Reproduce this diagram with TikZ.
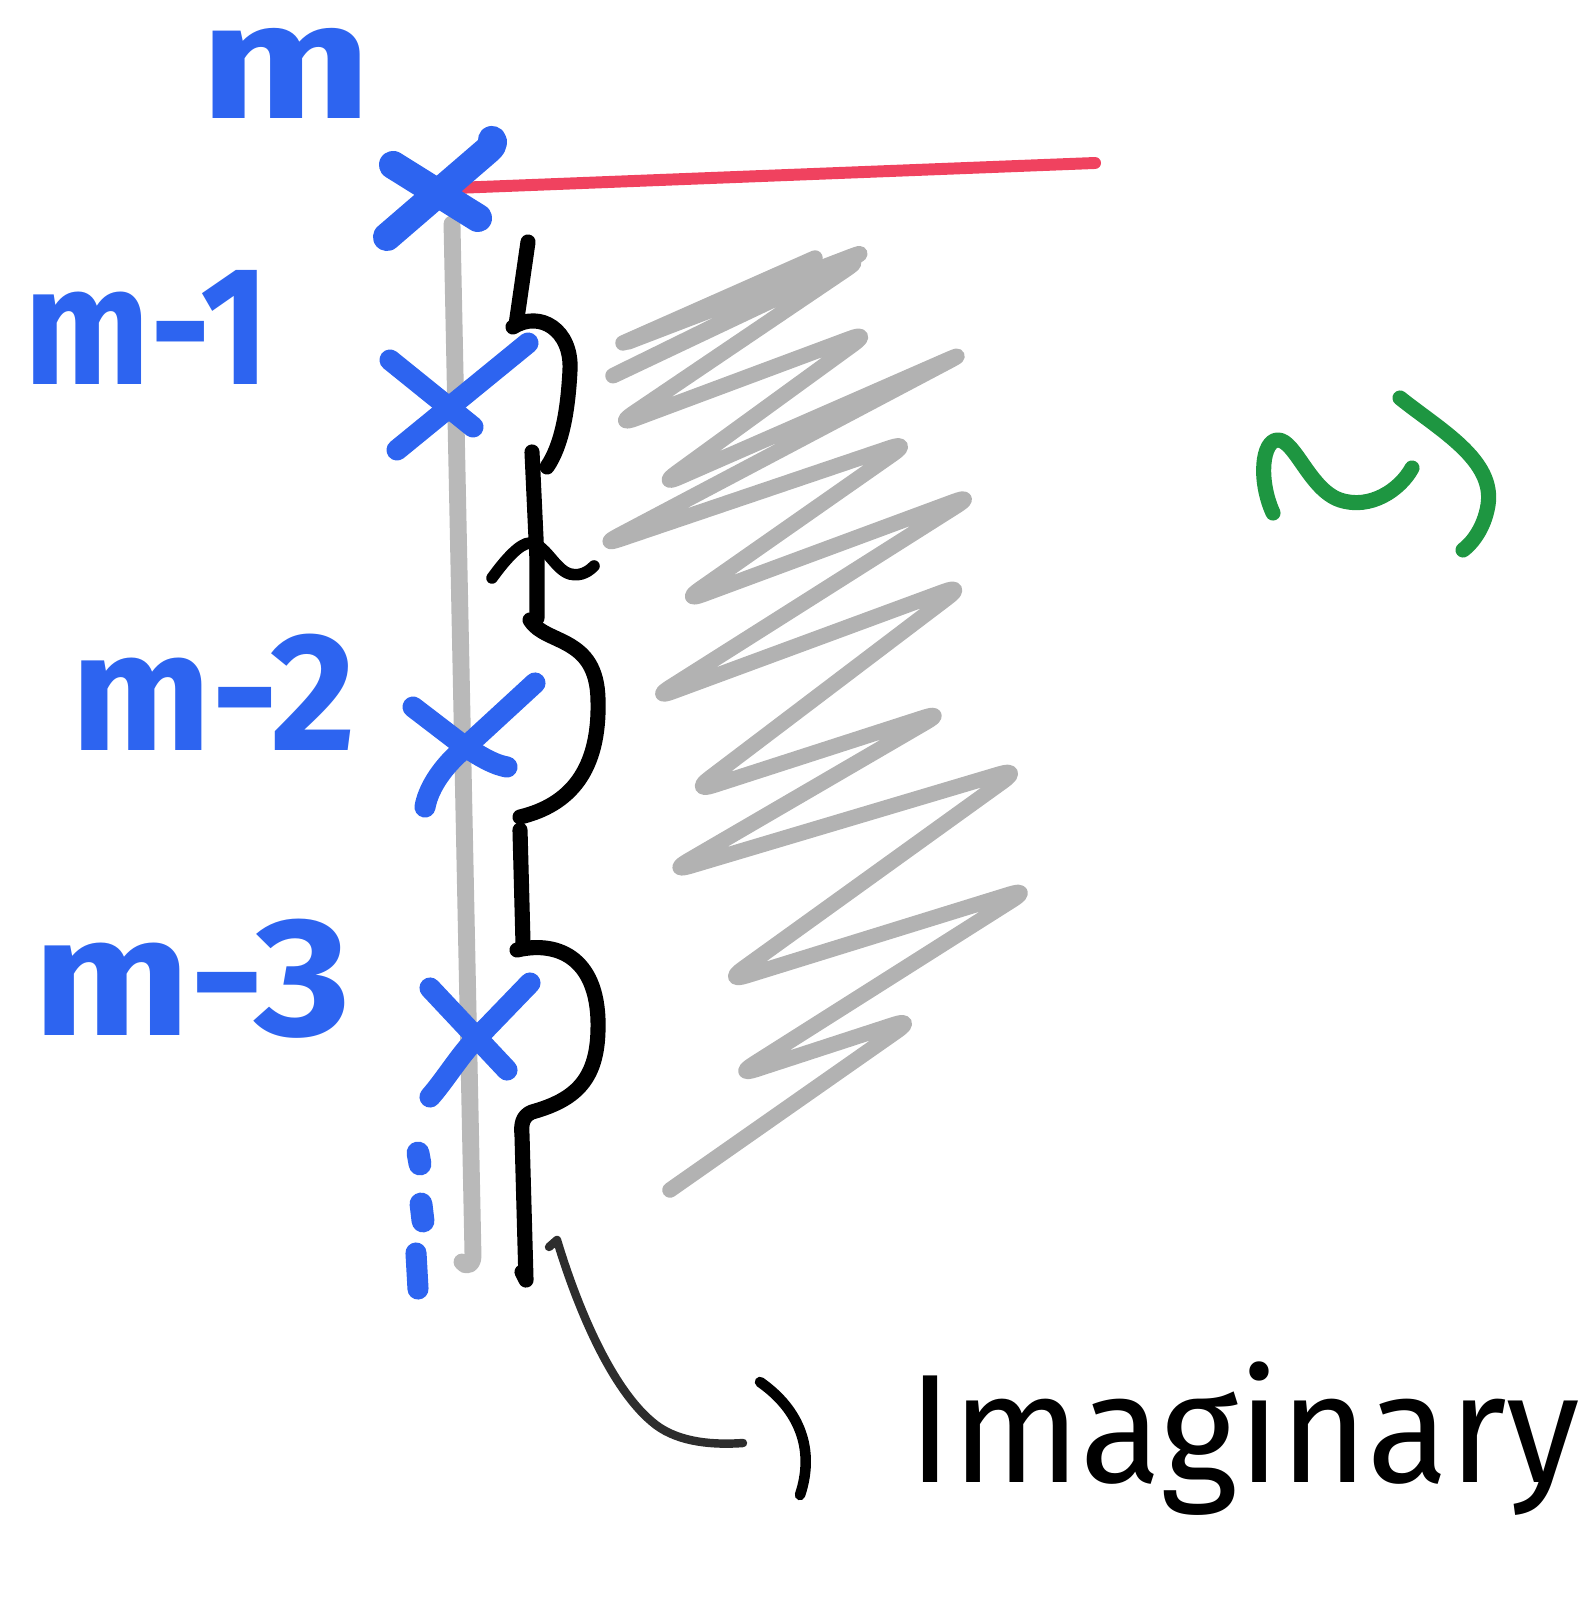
\documentclass[tikz,border=0pt]{standalone}
\usepackage{fontspec}
\usepackage{graphicx}
\setmainfont{Fira Sans}
\definecolor{penblue}{RGB}{45,100,240}
\definecolor{penred}{RGB}{240,66,95}
\definecolor{pengreen}{RGB}{30,150,65}
\definecolor{pengray}{RGB}{185,185,185}
\definecolor{scribble}{RGB}{178,178,178}
\definecolor{inkdark}{RGB}{45,45,45}
\begin{document}
\begin{tikzpicture}[x=0.01cm,y=-0.01cm,line cap=round,line join=round,
  bluepen/.style={draw=penblue,line width=6pt},
  thickblue/.style={draw=penblue,line width=8pt},
  bracepen/.style={draw=black,line width=4.3pt},
  lbl/.style={text=penblue,font=\fontsize{48}{48}\selectfont\bfseries,inner sep=0pt,anchor=base},
  word/.style={text=black,font=\fontsize{44}{44}\selectfont,inner sep=0pt,anchor=base west}]
\useasboundingbox (0,0) rectangle (1591,1607);

% labels
\node[lbl,font=\fontsize{36}{36}\selectfont\bfseries] (lm) at (286,119) {\scalebox{1.6}[1.3]{m}};
\node[lbl] (lm1) at (147,385) {\scalebox{0.88}[1]{m-1}};
\node[lbl] (lm2) at (214,750) {\scalebox{0.98}[1]{m-2}};
\node[lbl] (lm3) at (192,1035) {\scalebox{1.1}[1]{m-3}};

% gray axis
\draw[pengray,line width=4.8pt] (452,224) -- (473,1256) .. controls (473,1266) and (465,1267) .. (462,1262);

% red line
\draw[penred,line width=3.4pt] (455,188) -- (1095,163);

% crosses
\draw[thickblue] (393,165) -- (478,218);
\draw[thickblue] (387,237) -- (488,150) .. controls (493,146) and (494,142) .. (492,140);
\draw[bluepen] (390,360) -- (473,427);
\draw[bluepen] (397,450) -- (528,343);
\draw[bluepen] (413,707) -- (460,743) .. controls (480,757) and (495,765) .. (507,767);
\draw[bluepen] (425,807) .. controls (428,790) and (440,770) .. (460,752) -- (535,683);
\draw[bluepen] (430,988) -- (507,1070);
\draw[bluepen] (430,1097) .. controls (445,1080) and (460,1055) .. (475,1040) -- (530,983);

% dots
\draw[penblue,line width=6.5pt] (418,1153) -- (420,1164);
\draw[penblue,line width=6.5pt] (421,1204) -- (423,1221);
\draw[penblue,line width=6pt] (416,1253) -- (418,1289);

% brace
\draw[bracepen] (528,242) -- (516,325);
\draw[bracepen] (513,327) .. controls (540,310) and (572,330) .. (570,370)
  .. controls (568,410) and (562,445) .. (547,467);
\draw[bracepen] (532,452) -- (537,560) -- (537,618);
\draw[bracepen] (530,620) .. controls (545,645) and (597,635) .. (598,700)
  .. controls (600,770) and (570,805) .. (520,817);
\draw[bracepen] (520,830) -- (523,943);
\draw[bracepen] (517,950) .. controls (560,940) and (600,960) .. (598,1030)
  .. controls (597,1080) and (575,1100) .. (532,1112)
  .. controls (522,1116) and (521,1125) .. (522,1135) -- (526,1280) -- (522,1272);
\draw[black,line width=3.3pt] (492,578) .. controls (505,560) and (520,543) .. (530,543)
  .. controls (545,543) and (555,570) .. (570,574) .. controls (582,577) and (590,570) .. (594,566);

% scribble
\draw[scribble,line width=4.4pt] (623,343) -- (815,258);
\draw[scribble,line width=4.4pt,rounded corners=7pt]
  (628,342) -- (873,248) -- (600,382) -- (866,256) -- (613,427) -- (873,330)
  -- (657,487) -- (970,350) -- (597,547) -- (913,440) -- (680,603)
  -- (977,493) -- (650,700) -- (967,583) -- (690,793) -- (947,710)
  -- (667,873) -- (1023,767) -- (723,983) -- (1033,887) -- (733,1077)
  -- (917,1017) -- (670,1190);

% green squiggle
\draw[pengreen,line width=4.3pt] (1273,513) .. controls (1258,480) and (1262,440) .. (1278,440)
  .. controls (1295,440) and (1310,490) .. (1340,500) .. controls (1370,510) and (1400,490) .. (1412,468);
\draw[pengreen,line width=4.3pt] (1400,398) .. controls (1440,430) and (1495,460) .. (1488,505)
  .. controls (1484,530) and (1470,545) .. (1463,550);

% pointer to Imaginary
\coordinate (pstart) at (557,1240);
\coordinate (pend) at (743,1443);
\draw[inkdark,line width=2.4pt] (549,1247) -- (pstart)
  .. controls (575,1300) and (610,1390) .. (656,1425)
  .. controls (680,1443) and (715,1445) .. (pend);
\draw[black,line width=3pt] (760,1382) .. controls (800,1410) and (815,1450) .. (800,1495);
\node[word] (imag) at (908,1482) {\scalebox{0.965}[1]{Imaginary}};
\end{tikzpicture}
\end{document}
